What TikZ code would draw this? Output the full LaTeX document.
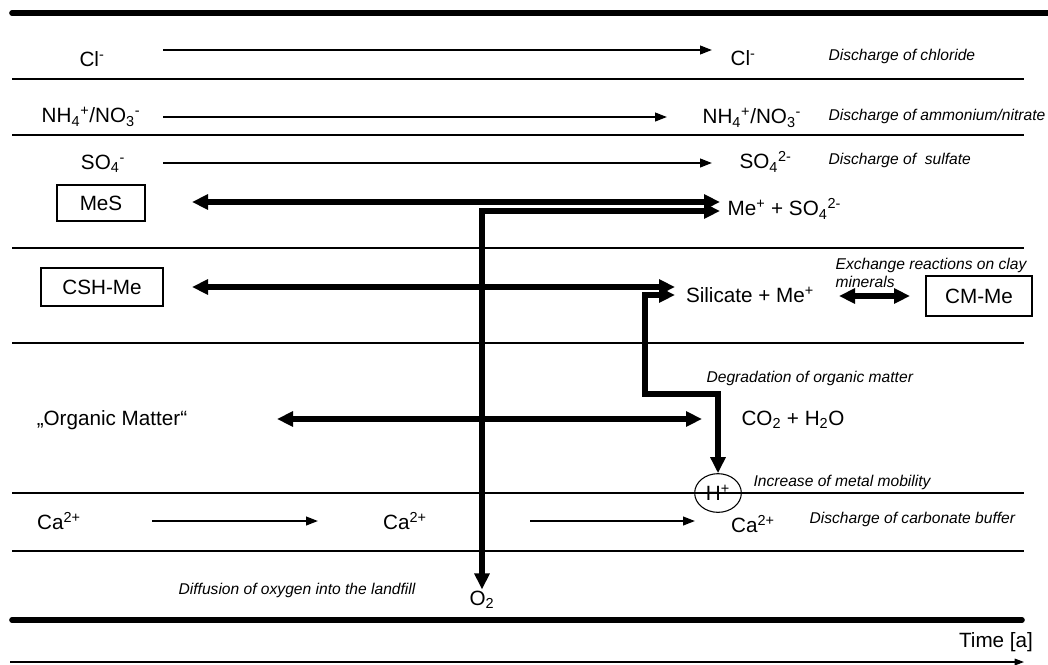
\documentclass[tikz,border=0pt]{standalone}
\usepackage{fontspec}
\setmainfont{Liberation Sans}
\usetikzlibrary{arrows.meta,shapes.geometric}

\begin{document}
\begin{tikzpicture}[
    x=0.75pt, y=-0.75pt,
    font=\fontsize{15.5}{18}\selectfont,
    lbl/.style={inner sep=1pt},
    note/.style={inner sep=1pt, font=\fontsize{11.7}{13.5}\selectfont\itshape},
    phase/.style={draw, line width=0.8pt, inner sep=1pt},
    rule/.style={line width=0.9pt},
    border/.style={line width=4.2pt, line cap=round},
    flux/.style={line width=1.5pt, -{Triangle[length=9pt,width=6.5pt]}},
    react/.style={line width=4pt, {Triangle[length=12pt,width=11pt]}-{Triangle[length=12pt,width=11pt]}},
  ]
  \useasboundingbox (0,0) rectangle (1048,664);

  % frame and rows
  \draw[border] (12,13) -- (1048,13);
  \foreach \y in {79,135,248,343,493,551}
    \draw[rule] (12,\y) -- (1024,\y);
  \draw[border] (12,620) -- (1022,620);

  % time axis
  \coordinate (t0) at (10,662);
  \coordinate (t1) at (1024,662);
  \draw[line width=0.8pt, -{Triangle[length=7pt,width=5pt]}] (t0) -- (t1);
  \node[lbl] (time) at (996,642) {Time [a]};

  % washed out ions
  \node[lbl] (clL) at (92,59) {Cl\textsuperscript{-}};
  \node[lbl, anchor=west] (clR) at (729,58) {Cl\textsuperscript{-}};
  \node[note, anchor=west] (dCl) at (827,56) {Discharge of chloride};
  \node[lbl] (nhL) at (91,117) {NH\textsubscript{4}\textsuperscript{+}/NO\textsubscript{3}\textsuperscript{-}};
  \node[lbl, anchor=west] (nhR) at (701,118) {NH\textsubscript{4}\textsuperscript{+}/NO\textsubscript{3}\textsuperscript{-}};
  \node[note, anchor=west] (dNh) at (827,116) {Discharge of ammonium/nitrate};
  \node[lbl] (soL) at (103,164) {SO\textsubscript{4}\textsuperscript{-}};
  \node[lbl, anchor=west] (soR) at (738,162) {SO\textsubscript{4}\textsuperscript{2-}};
  \node[note, anchor=west] (dSo) at (827,160) {Discharge of\ \ sulfate};
  \coordinate (clA) at (163,50);  \coordinate (clB) at (712,50);
  \coordinate (nhA) at (163,117); \coordinate (nhB) at (667,117);
  \coordinate (soA) at (163,163); \coordinate (soB) at (712,163);
  \draw[flux] (clA) -- (clB);
  \draw[flux] (nhA) -- (nhB);
  \draw[flux] (soA) -- (soB);

  % metals
  \node[phase, minimum width=66pt, minimum height=27pt] (mes) at (101,203) {MeS};
  \node[lbl, anchor=west] (meso) at (726,209) {Me\textsuperscript{+} + SO\textsubscript{4}\textsuperscript{2-}};
  \coordinate (mesA) at (192,202); \coordinate (mesB) at (720,202);
  \draw[react] (mesA) -- (mesB);

  \node[phase, minimum width=91.5pt, minimum height=28.5pt] (csh) at (102,287) {CSH-Me};
  \node[lbl] (sil) at (750,295) {Silicate + Me\textsuperscript{+}};
  \node[phase, minimum width=79.5pt, minimum height=30pt] (cm) at (979,296) {CM-Me};
  \node[note, align=left, anchor=west] (exch) at (834,273) {Exchange reactions on clay\\minerals};
  \coordinate (cshA) at (192,287); \coordinate (cshB) at (675,287);
  \draw[react] (cshA) -- (cshB);
  \coordinate (exA) at (839,296); \coordinate (exB) at (910,296);
  \draw[react] (exA) -- (exB);

  % organic matter
  \node[lbl] (om) at (112,420) {„Organic Matter“};
  \node[lbl] (co2) at (793,420) {CO\textsubscript{2} + H\textsubscript{2}O};
  \node[note, anchor=west] (deg) at (705,378) {Degradation of organic matter};
  \coordinate (omA) at (277,419); \coordinate (omB) at (702,419);
  \draw[react] (omA) -- (omB);

  \node[draw, ellipse, line width=0.8pt, minimum width=35pt, minimum height=29pt, inner sep=0pt] (hplus) at (718,493) {H\textsuperscript{+}};
  \node[note, anchor=west] (inc) at (752,482) {Increase of metal mobility};
  \coordinate (bend) at (645,394);
  \coordinate (silIn) at (675,295);
  \draw[react] (hplus.north) |- (bend) |- (silIn);

  % carbonate buffer
  \node[lbl] (ca1) at (59,521) {Ca\textsuperscript{2+}};
  \node[lbl] (ca2) at (405,521) {Ca\textsuperscript{2+}};
  \node[lbl] (ca3) at (753,524) {Ca\textsuperscript{2+}};
  \node[note, anchor=west] (dCa) at (808,519) {Discharge of carbonate buffer};
  \coordinate (caA) at (152,521); \coordinate (caB) at (318,521);
  \coordinate (caC) at (530,521); \coordinate (caD) at (695,521);
  \draw[flux] (caA) -- (caB);
  \draw[flux] (caC) -- (caD);

  % oxygen
  \node[note] (dif) at (297,590) {Diffusion of oxygen into the landfill};
  \node[lbl] (o2) at (482,600) {O\textsubscript{2}};
  \coordinate (meIn) at (720,211);
  \draw[react] (o2.north) |- (meIn);
\end{tikzpicture}
\end{document}
